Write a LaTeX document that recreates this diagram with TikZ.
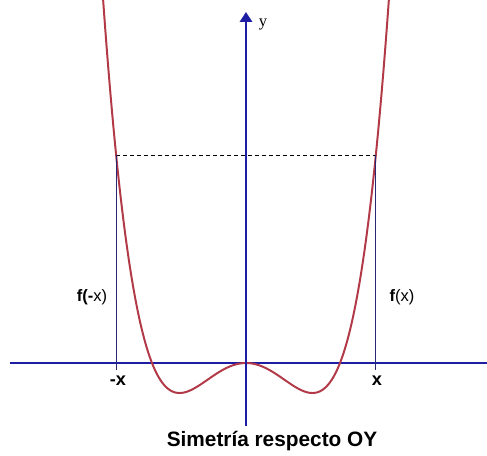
\documentclass[tikz,border=0pt]{standalone}
\usepackage{fontspec}
\setmainfont{Liberation Sans}
\newfontfamily\serifface{Liberation Serif}
\usetikzlibrary{arrows.meta}

\definecolor{axisblue}{RGB}{30,30,165}
\definecolor{linenavy}{RGB}{40,40,115}
\definecolor{curvered}{RGB}{178,58,72}

\tikzset{
  axisline/.style={draw=axisblue, line width=1.2pt},
  guide/.style={draw=linenavy, line width=0.6pt},
  level/.style={draw=black, line width=0.6pt, dash pattern=on 2.4pt off 1.8pt},
  curve/.style={draw=curvered, line width=1.2pt},
  lbl/.style={inner sep=0pt, font=\fontsize{10}{12}\selectfont},
  ptlbl/.style={inner sep=0pt, font=\bfseries\fontsize{11}{13}\selectfont}
}

\begin{document}
\begin{tikzpicture}[x=2cm, y=2cm]
  \useasboundingbox (-2.617,-0.989) rectangle (2.564,3.862);
  % Axes
  \coordinate (xl) at (-2.511,0);
  \coordinate (xr) at (2.564,0);
  \coordinate (yb) at (0,-0.670);
  \coordinate (yt) at (0,3.734);
  \draw[axisline] (xl) -- (xr);
  % Curve
  \begin{scope}
    \clip (-2.617,-0.989) rectangle (2.564,3.862);
    \draw[curve, domain=-1.53:1.53, samples=150, smooth]
      plot (\x, {1.2766*(\x*\x*\x*\x - \x*\x)});
  \end{scope}
  \draw[axisline, -{Triangle[width=7.5pt, length=6pt]}] (yb) -- (yt);
  \node[font=\serifface\fontsize{10}{12}\selectfont] (ylab) at (0.181,3.606) {y};
  % Points -x and x
  \coordinate (pl) at (-1.3814,2.213);
  \coordinate (pr) at (1.3814,2.213);
  \coordinate (bl) at (-1.3814,-0.074);
  \coordinate (br) at (1.3814,-0.074);
  \draw[level] (pl) -- (pr);
  \draw[guide] (pl) -- (bl);
  \draw[guide] (pr) -- (br);
  \node[lbl] (fml) at (-1.638,0.702) {\textbf{f(-}x)};
  \node[lbl] (fpl) at (1.66,0.702) {\textbf{f}(x)};
  \node[ptlbl] (mxl) at (-1.362,-0.191) {-x};
  \node[ptlbl] (pxl) at (1.394,-0.191) {x};
  % Title
  \node[font=\bfseries\fontsize{12.6}{15}\selectfont] (title) at (0.277,-0.83) {Simetría respecto OY};
\end{tikzpicture}
\end{document}
